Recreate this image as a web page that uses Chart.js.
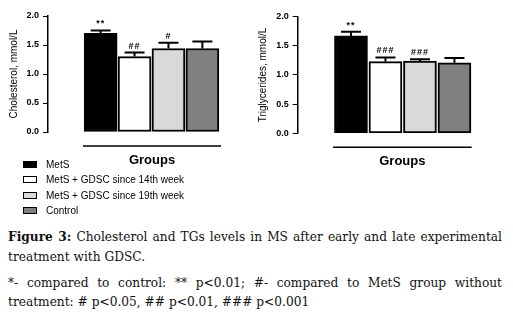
<!DOCTYPE html>
<html>
<head>
<meta charset="utf-8">
<script src="https://cdn.jsdelivr.net/npm/chart.js@4"></script>
<style>
  body { margin: 0; background: #fff; width: 513px; height: 327px; position: relative; overflow: hidden; }
  canvas { position: absolute; top: 0; }
  #legend { position: absolute; left: 23px; top: 157px; font: 10px Arial, "Liberation Sans", sans-serif; color: #000; }
  .row { height: 15.3px; display: flex; align-items: center; }
  .sw { width: 12px; height: 5px; border: 1.5px solid #000; margin-right: 9px; }
  .cap { position: absolute; left: 8px; width: 494px; font: 12.2px "DejaVu Serif", serif; line-height: 18px; color: #111; white-space: nowrap; }
  .just { text-align: justify; text-align-last: justify; }
</style>
</head>
<body>
<canvas id="chol" width="256" height="175" style="left:0"></canvas>
<canvas id="tg" width="257" height="175" style="left:256px"></canvas>
<div id="legend"></div>
<div class="cap just" style="top:228px"><b>Figure 3:</b> Cholesterol and TGs levels in MS after early and late experimental</div>
<div class="cap" style="top:248px">treatment with GDSC.</div>
<div class="cap just" style="top:274px">*- compared to control: ** p&lt;0.01; #- compared to MetS group without</div>
<div class="cap" style="top:293px">treatment: # p&lt;0.05, ## p&lt;0.01, ### p&lt;0.001</div>

<script>
// grupos e cores
const groups = ['MetS', 'MetS + GDSC since 14th week', 'MetS + GDSC since 19th week', 'Control'];
const barColors = ['#000000', '#ffffff', '#d9d9d9', '#808080'];

// colesterol
const cholMean = [1.70, 1.30, 1.44, 1.44];
const cholErr = [0.05, 0.07, 0.10, 0.12];
const cholMarks = ['**', '##', '#', ''];

// triglicerídeos
const tgMean = [1.67, 1.23, 1.24, 1.21];
const tgErr = [0.07, 0.07, 0.03, 0.08];
const tgMarks = ['**', '###', '###', ''];

const yTicks = [0, 0.5, 1.0, 1.5, 2.0];

// legenda em HTML
const legend = document.getElementById('legend');
groups.forEach((g, i) => {
  const row = document.createElement('div');
  row.className = 'row';
  row.innerHTML = `<span class="sw" style="background:${barColors[i]}"></span>${g}`;
  legend.appendChild(row);
});

// barras de erro, marcas e linha "Groups"
const extras = {
  id: 'extras',
  afterDatasetsDraw(chart, args, opts) {
    const ctx = chart.ctx;
    const y = chart.scales.y;
    const x = chart.scales.x;
    const meta = chart.getDatasetMeta(0);
    ctx.save();
    ctx.strokeStyle = '#000';
    ctx.fillStyle = '#000';
    ctx.lineWidth = 2;
    meta.data.forEach((el, i) => {
      const top = y.getPixelForValue(opts.mean[i] + opts.err[i]);
      ctx.beginPath();
      ctx.moveTo(el.x, el.y);
      ctx.lineTo(el.x, top);
      ctx.moveTo(el.x - 10, top);
      ctx.lineTo(el.x + 10, top);
      ctx.stroke();
      if (opts.marks[i]) {
        ctx.font = 'bold 9px Arial';
        ctx.textAlign = 'center';
        ctx.textBaseline = 'bottom';
        ctx.letterSpacing = '1px';
        ctx.fillText(opts.marks[i], el.x, top - 2);
      }
    });
    const ly = chart.chartArea.bottom + 14;
    ctx.lineWidth = 1.5;
    ctx.beginPath();
    ctx.moveTo(x.getPixelForValue(-0.52), ly);
    ctx.lineTo(x.getPixelForValue(opts.lineEnd), ly);
    ctx.stroke();
    ctx.letterSpacing = '0px';
    ctx.font = 'bold 13px Arial';
    ctx.textAlign = 'center';
    ctx.textBaseline = 'middle';
    ctx.fillText('Groups', (x.getPixelForValue(-0.52) + x.getPixelForValue(opts.lineEnd)) / 2, chart.chartArea.bottom + 28);
    ctx.restore();
  }
};

function desenhar(id, mean, err, marks, title, cfg) {
  new Chart(document.getElementById(id), {
    type: 'bar',
    data: {
      datasets: [{
        data: mean.map((v, i) => ({ x: i, y: v })),
        backgroundColor: barColors,
        borderColor: '#000',
        borderWidth: 2,
        borderSkipped: false,
        barThickness: 33
      }]
    },
    options: {
      responsive: false,
      devicePixelRatio: 1,
      animation: false,
      layout: { padding: { top: cfg.top, bottom: cfg.bottom, left: 0, right: cfg.right } },
      plugins: {
        legend: { display: false },
        tooltip: { enabled: false },
        extras: { mean: mean, err: err, marks: marks, lineEnd: cfg.lineEnd }
      },
      scales: {
        x: { type: 'linear', min: cfg.xMin, max: cfg.xMax, display: false },
        y: {
          min: 0, max: 2,
          afterFit: s => { s.width = cfg.axisW; },
          afterBuildTicks: s => { s.ticks = yTicks.map(v => ({ value: v })); },
          grid: { drawOnChartArea: false, drawTicks: true, tickLength: 5, color: '#000' },
          border: { color: '#000', width: 1.5 },
          ticks: {
            padding: 4,
            color: '#000',
            font: { family: 'Arial', size: 9, weight: 'bold' },
            callback: v => v.toFixed(1)
          },
          title: {
            display: true,
            text: title,
            color: '#000',
            font: { family: 'Arial', size: 10 },
            padding: { top: cfg.titlePad, bottom: 0 }
          }
        }
      }
    },
    plugins: [extras]
  });
}

desenhar('chol', cholMean, cholErr, cholMarks, 'Cholesterol, mmol/L',
  { top: 16, bottom: 43, right: 6, axisW: 48, xMin: -0.808, xMax: 3.66, lineEnd: 3.55, titlePad: 8 });
desenhar('tg', tgMean, tgErr, tgMarks, 'Triglycerides, mmol/L',
  { top: 16.7, bottom: 41.7, right: 7, axisW: 41.7, xMin: -0.79, xMax: 3.74, lineEnd: 3.5, titlePad: 1 });
</script>
</body>
</html>
